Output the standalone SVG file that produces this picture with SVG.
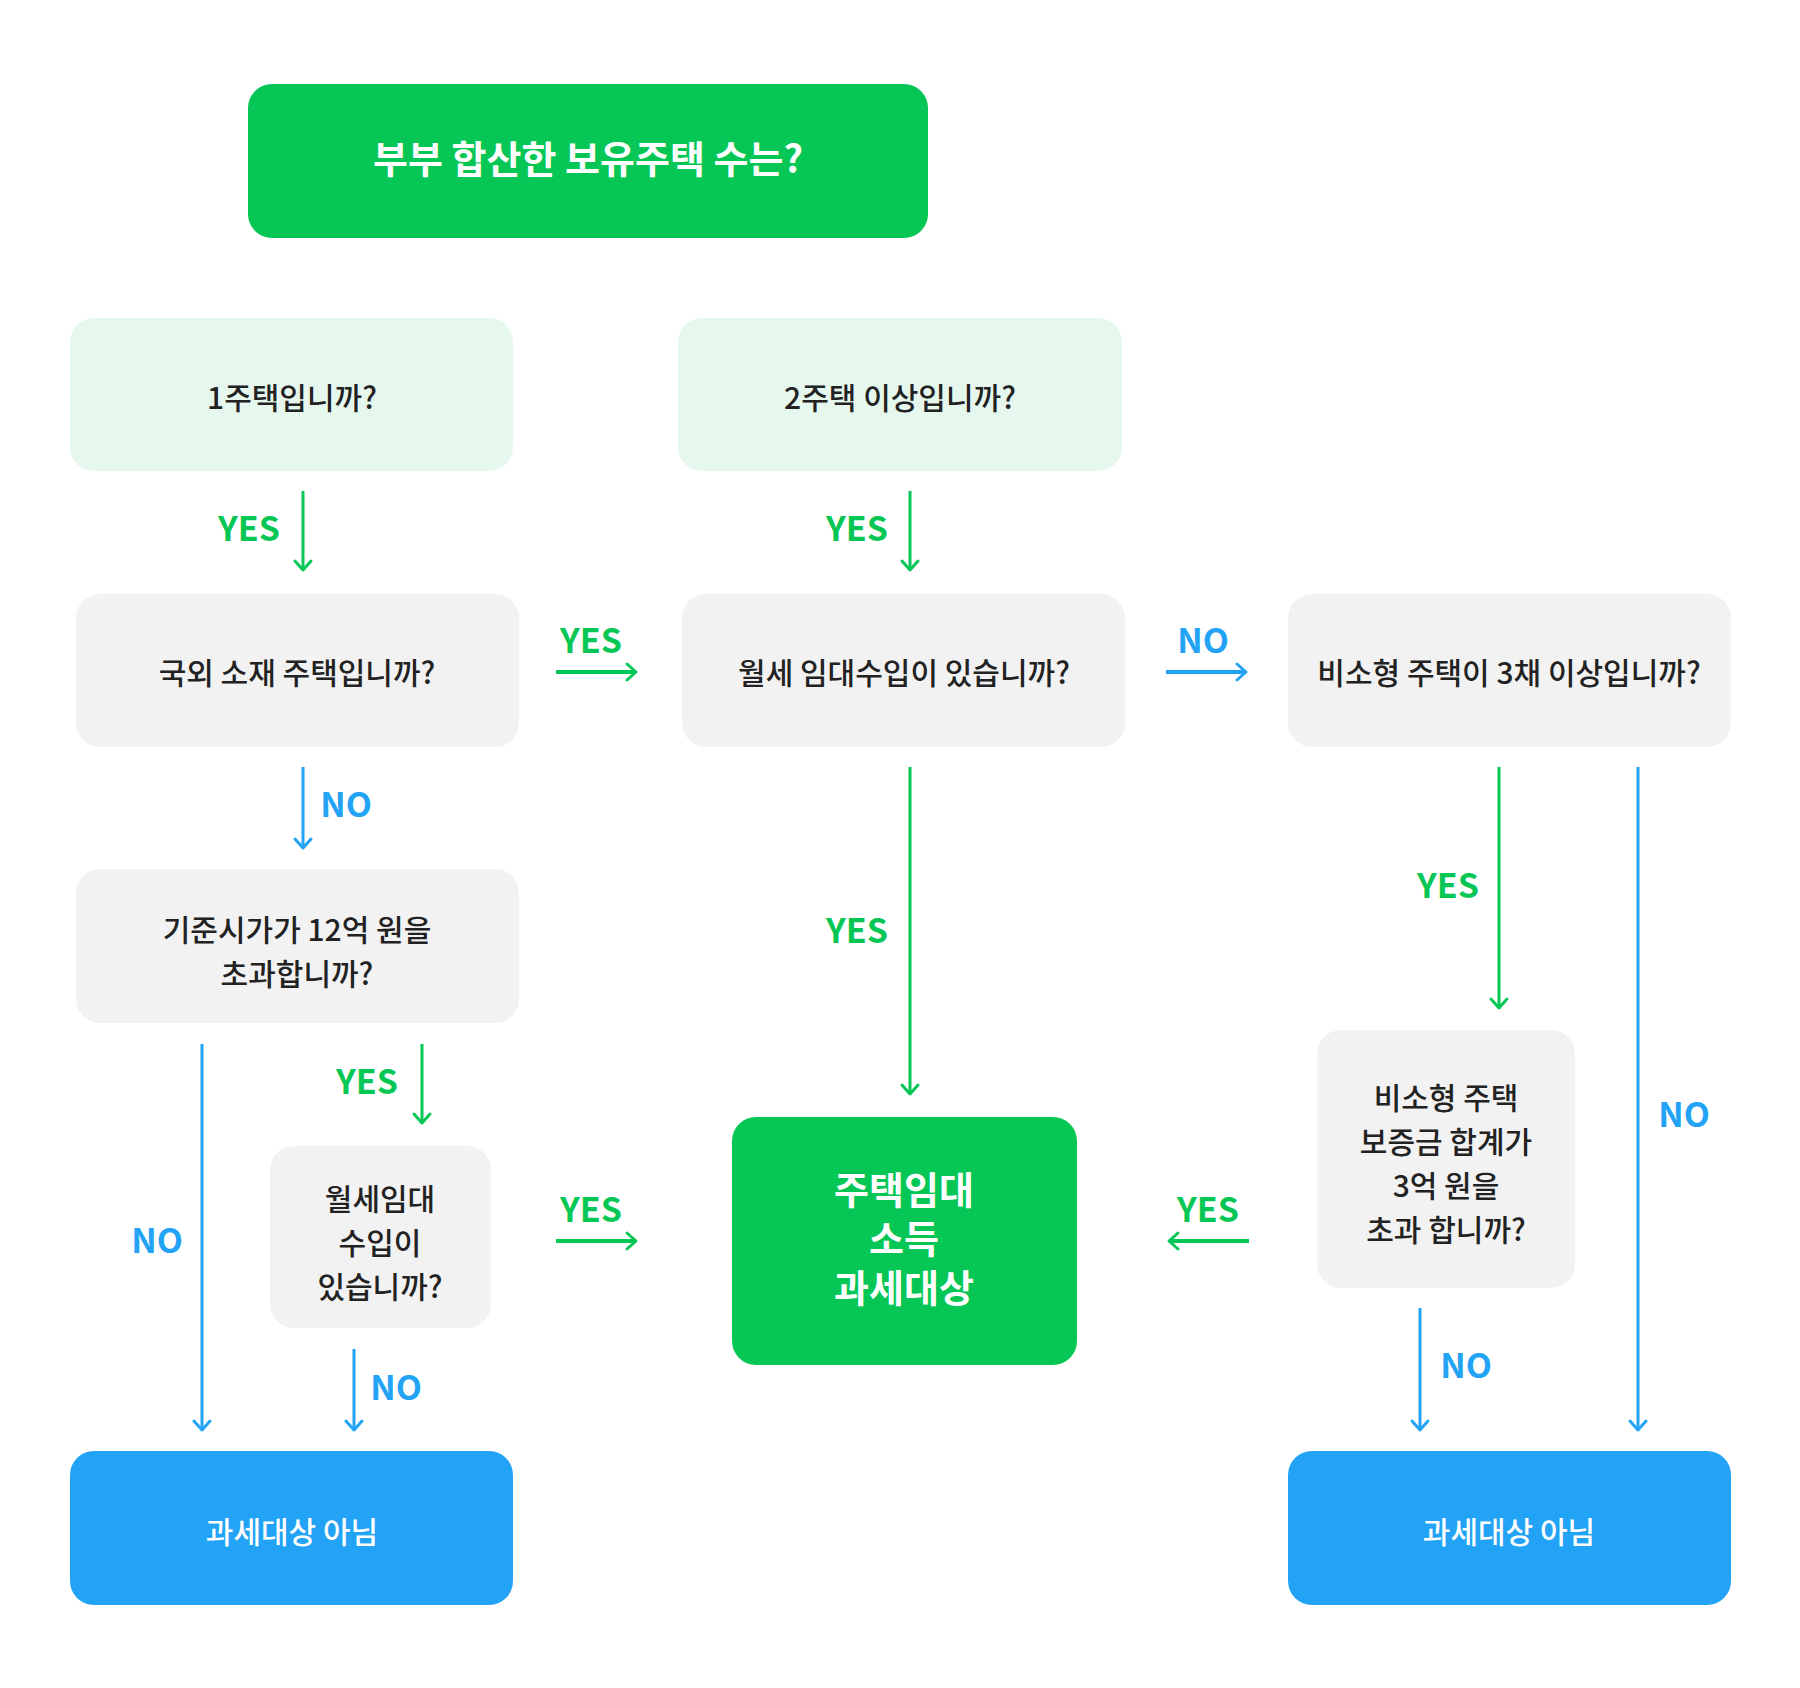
<svg xmlns="http://www.w3.org/2000/svg" width="1800" height="1688" viewBox="0 0 1800 1688">
<defs>
<marker id="ag" markerUnits="userSpaceOnUse" markerWidth="24" markerHeight="24" viewBox="-12 -12 24 24" refX="0" refY="0" orient="auto">
<path d="M-9,-8 L0,0 L-9,8" fill="none" stroke="#06C755" stroke-width="3" stroke-linecap="round" stroke-linejoin="round"/>
</marker>
<marker id="ab" markerUnits="userSpaceOnUse" markerWidth="24" markerHeight="24" viewBox="-12 -12 24 24" refX="0" refY="0" orient="auto">
<path d="M-9,-8 L0,0 L-9,8" fill="none" stroke="#23A3F5" stroke-width="3" stroke-linecap="round" stroke-linejoin="round"/>
</marker>
</defs>
<style>
text{font-family:"Noto Sans CJK KR","Noto Sans",sans-serif;text-anchor:middle}
.t{font-size:30px;fill:#222;font-weight:500}
.w{font-size:30px;fill:#fff;font-weight:500}
.h{font-size:38px;fill:#fff;font-weight:700}
.lg{fill:#06C755;font-size:34px;font-weight:700}
.lb{fill:#23A3F5;font-size:34px;font-weight:700}
.cg{stroke:#06C755;stroke-width:3;fill:none;marker-end:url(#ag)}
.cb{stroke:#23A3F5;stroke-width:3;fill:none;marker-end:url(#ab)}
.hz{stroke-width:4}
.green{fill:#06C755}
.mint{fill:#E6F8EE}
.gray{fill:#F2F2F2}
.blue{fill:#23A3F5}
</style>
<rect width="1800" height="1688" fill="#fff"/>

<g id="n-start"><rect class="green" x="248" y="84" width="680" height="154" rx="24"/><text class="h" x="588" y="173">부부 합산한 보유주택 수는?</text></g>
<g id="n-one"><rect class="mint" x="70" y="318" width="443" height="153" rx="24"/><text class="t" x="292" y="409">1주택입니까?</text></g>
<g id="n-two"><rect class="mint" x="678" y="318" width="444" height="153" rx="24"/><text class="t" x="900" y="409">2주택 이상입니까?</text></g>
<g id="n-abroad"><rect class="gray" x="76" y="594" width="443" height="153" rx="24"/><text class="t" x="297" y="684">국외 소재 주택입니까?</text></g>
<g id="n-rent"><rect class="gray" x="682" y="594" width="443" height="153" rx="24"/><text class="t" x="904" y="684">월세 임대수입이 있습니까?</text></g>
<g id="n-small"><rect class="gray" x="1288" y="594" width="443" height="153" rx="24"/><text class="t" x="1509" y="684">비소형 주택이 3채 이상입니까?</text></g>
<g id="n-price"><rect class="gray" x="76" y="869" width="443" height="154" rx="24"/><text class="t" x="297" y="941">기준시가가 12억 원을</text><text class="t" x="297" y="985">초과합니까?</text></g>
<g id="n-rent2"><rect class="gray" x="270" y="1146" width="221" height="182" rx="24"/><text class="t" x="380" y="1210">월세임대</text><text class="t" x="380" y="1254">수입이</text><text class="t" x="380" y="1298">있습니까?</text></g>
<g id="n-taxed"><rect class="green" x="732" y="1117" width="345" height="248" rx="24"/><text class="h" x="904" y="1204">주택임대</text><text class="h" x="904" y="1253">소득</text><text class="h" x="904" y="1302">과세대상</text></g>
<g id="n-deposit"><rect class="gray" x="1317" y="1030" width="258" height="258" rx="24"/><text class="t" x="1446" y="1109">비소형 주택</text><text class="t" x="1446" y="1153">보증금 합계가</text><text class="t" x="1446" y="1197">3억 원을</text><text class="t" x="1446" y="1241">초과 합니까?</text></g>
<g id="n-not1"><rect class="blue" x="70" y="1451" width="443" height="154" rx="24"/><text class="w" x="292" y="1543">과세대상 아님</text></g>
<g id="n-not2"><rect class="blue" x="1288" y="1451" width="443" height="154" rx="24"/><text class="w" x="1509" y="1543">과세대상 아님</text></g>

<g id="connectors">
<path class="cg" d="M303,491 V570"/>
<path class="cg" d="M910,491 V570"/>
<path class="cg hz" d="M556,672 H636"/>
<path class="cb hz" d="M1166,672 H1246"/>
<path class="cb" d="M303,767 V848"/>
<path class="cg" d="M910,767 V1094"/>
<path class="cg" d="M1499,767 V1008"/>
<path class="cb" d="M1638,767 V1430"/>
<path class="cb" d="M202,1044 V1430"/>
<path class="cg" d="M422,1044 V1123"/>
<path class="cg hz" d="M556,1241 H636"/>
<path class="cb" d="M354,1349 V1430"/>
<path class="cg hz" d="M1249,1241 H1169"/>
<path class="cb" d="M1420,1308 V1430"/>

<text class="lg" x="249" y="541">YES</text>
<text class="lg" x="857" y="541">YES</text>
<text class="lg" x="591" y="653">YES</text>
<text class="lb" x="1203" y="653">NO</text>
<text class="lb" x="346" y="817">NO</text>
<text class="lg" x="857" y="943">YES</text>
<text class="lg" x="1448" y="898">YES</text>
<text class="lb" x="1684" y="1127">NO</text>
<text class="lb" x="157" y="1253">NO</text>
<text class="lg" x="367" y="1094">YES</text>
<text class="lg" x="591" y="1222">YES</text>
<text class="lb" x="396" y="1400">NO</text>
<text class="lg" x="1208" y="1222">YES</text>
<text class="lb" x="1466" y="1378">NO</text>
</g>
</svg>
